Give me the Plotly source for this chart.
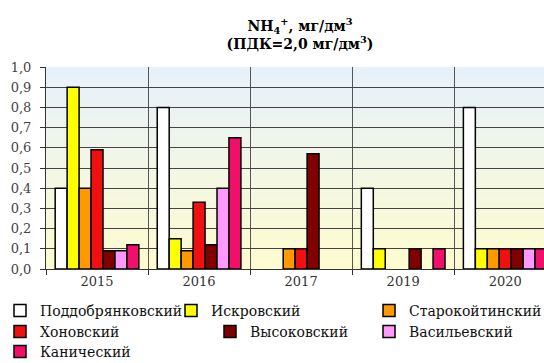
import plotly.graph_objects as go

# Ammonium (NH4+) concentration by water body and year, mg/dm3
years = ["2015", "2016", "2017", "2019", "2020"]

poddobryankovsky = [0.40, 0.80, None, 0.40, 0.80]
iskrovsky = [0.90, 0.15, None, 0.10, 0.10]
starokoytinsky = [0.40, 0.09, 0.10, None, 0.10]
khonovsky = [0.59, 0.33, 0.10, None, 0.10]
vysokovsky = [0.09, 0.12, 0.57, 0.10, 0.10]
vasilievsky = [0.09, 0.40, None, None, 0.10]
kanichesky = [0.12, 0.65, None, 0.10, 0.10]

series = [
    ("Поддобрянковский", poddobryankovsky, "#ffffff"),
    ("Искровский", iskrovsky, "#ffff00"),
    ("Старокойтинский", starokoytinsky, "#ff9900"),
    ("Хоновский", khonovsky, "#f01010"),
    ("Высоковский", vysokovsky, "#800000"),
    ("Васильевский", vasilievsky, "#ff99ff"),
    ("Канический", kanichesky, "#f0106a"),
]

W, H = 544, 363
FONT = "DejaVu Serif"

# legend entry anchors (left edge px, row centre px)
legend_pos = [
    (0, 311), (171, 311), (369, 311),
    (0, 332), (210, 332), (369, 332),
    (0, 352),
]

fig = go.Figure()
for i, (name, vals, color) in enumerate(series):
    lg = "legend" if i == 0 else f"legend{i + 1}"
    fig.add_trace(go.Bar(
        x=years, y=vals, name=name, legend=lg, showlegend=True,
        marker=dict(color=color, line=dict(color="#000000", width=1.5)),
    ))

layout_legends = {}
for i, (lx, ly) in enumerate(legend_pos):
    key = "legend" if i == 0 else f"legend{i + 1}"
    layout_legends[key] = dict(
        x=lx / W, y=1 - ly / H, xref="container", yref="container",
        xanchor="left", yanchor="middle", orientation="h",
        bgcolor="rgba(0,0,0,0)", borderwidth=0, visible=True,
        font=dict(family=FONT, size=14, color="#111111"),
        itemclick=False,
    )

# vertical gradient backdrop of the plot area: light yellow at bottom, light blue at top
bottom_rgb = (254, 252, 208)
top_rgb = (230, 241, 251)
n_bands = 60
shapes = []
for k in range(n_bands):
    t = k / (n_bands - 1)
    r, g, b = (round(bottom_rgb[j] + (top_rgb[j] - bottom_rgb[j]) * t) for j in range(3))
    shapes.append(dict(
        type="rect", xref="paper", yref="paper", layer="below",
        x0=0, x1=1, y0=k / n_bands, y1=min(1, (k + 1) / n_bands + 0.003),
        fillcolor=f"rgb({r},{g},{b})", line=dict(width=0),
    ))

fig.update_layout(
    width=W, height=H,
    margin=dict(l=46, r=0, t=67, b=94),
    paper_bgcolor="#ffffff",
    plot_bgcolor="rgba(0,0,0,0)",
    showlegend=True,
    separators=",.",
    barmode="group",
    bargap=0.18,
    bargroupgap=0,
    shapes=shapes,
    title=dict(
        text="NH<sub>4</sub><sup>+</sup>, мг/дм<sup>3</sup><br>(ПДК=2,0 мг/дм<sup>3</sup>)",
        x=300 / W, xref="container", xanchor="center",
        y=1 - 31 / H, yref="container", yanchor="middle",
        font=dict(family=FONT, size=14, color="#000000", weight="bold"),
    ),
    xaxis=dict(
        type="category", range=[-0.5, 4.38],
        tickson="boundaries", ticks="outside", ticklen=5, tickcolor="#333333",
        showgrid=True, gridcolor="#555555", gridwidth=1,
        showline=True, linecolor="#333333", linewidth=1,
        tickfont=dict(family=FONT, size=13, color="#333333"),
        fixedrange=True,
    ),
    yaxis=dict(
        range=[0, 1.0], dtick=0.1, tick0=0, tickformat=".1f",
        ticks="outside", ticklen=5, tickcolor="#333333",
        showgrid=True, gridcolor="#444444", gridwidth=1,
        showline=True, linecolor="#333333", linewidth=1,
        zeroline=False, ticklabelstandoff=6,
        tickfont=dict(family=FONT, size=13, color="#444444"),
        fixedrange=True,
    ),
    **layout_legends,
)

fig.write_html("out.html")
